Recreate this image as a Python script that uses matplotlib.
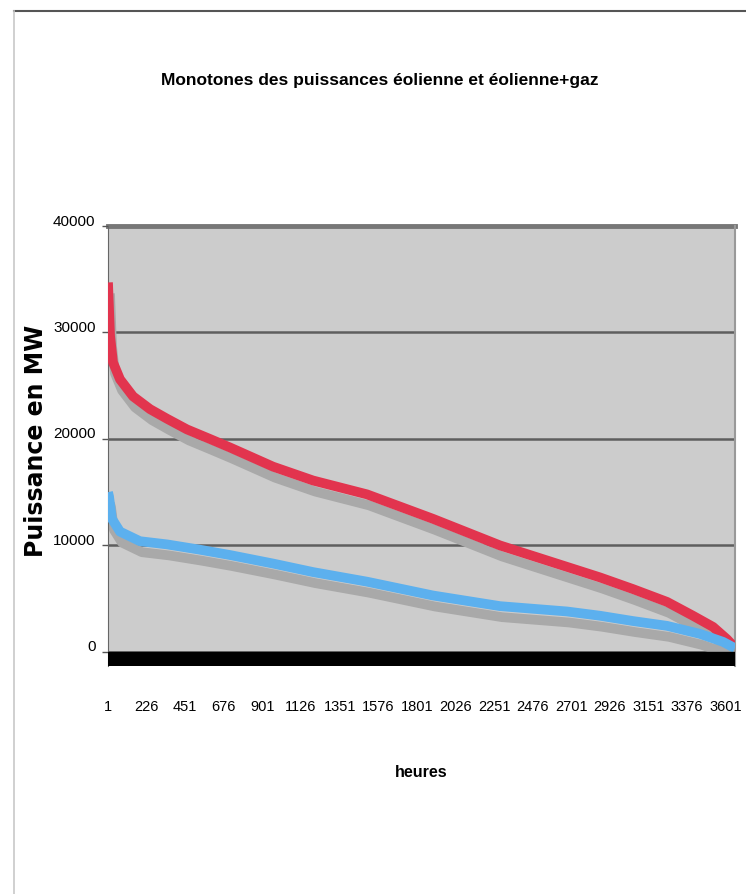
import matplotlib
matplotlib.use("Agg")
import matplotlib.pyplot as plt
from matplotlib import transforms
from matplotlib.lines import Line2D

# Load-duration curves, hours sorted by decreasing power (MW)
hours_gaz = [1, 13, 30, 71, 147, 246, 345, 461, 595, 712, 963, 1196, 1510,
             1895, 2286, 2577, 2868, 3061, 3259, 3410, 3527, 3608, 3655]
eol_gaz = [34700, 29700, 27200, 25600, 24000, 22800, 21900, 20900, 20000,
           19200, 17400, 16100, 14800, 12500, 10000, 8500, 7000, 5900, 4700,
           3400, 2350, 1200, 400]

hours_eol = [1, 7, 24, 71, 187, 345, 537, 712, 963, 1196, 1510, 1895, 2286,
             2676, 2868, 3061, 3259, 3450, 3585, 3655]
eol = [15000, 14600, 12500, 11300, 10400, 10100, 9600, 9100, 8300, 7500,
       6600, 5300, 4300, 3800, 3400, 2900, 2450, 1700, 950, 350]

x_ticks = list(range(1, 3602, 225))
y_ticks = [0, 10000, 20000, 30000, 40000]

font = ["Liberation Sans", "DejaVu Sans"]

fig = plt.figure(figsize=(7.46, 8.95), dpi=100)
ax = fig.add_axes([108 / 746, 1 - 667 / 895, 627 / 746, 440 / 895])
ax.set_facecolor("#cccccc")
ax.set_xlim(1, 3655)
ax.set_ylim(-1320, 40000)

# floor of the chart under the zero line
ax.axhspan(-1320, 0, color="black", zorder=5)

for v in y_ticks[:-1]:
    ax.axhline(v, color="#5e5e5e", lw=1.8, zorder=1)
ax.axhline(40000, color="#777777", lw=3.5, zorder=1, clip_on=False)

# grey drop shadows under both curves
shadow = transforms.offset_copy(ax.transData, fig=fig, x=2, y=-11, units="dots")
for xs, ys in [(hours_gaz, eol_gaz), (hours_eol, eol)]:
    ax.plot(xs, ys, color="#a9a9a9", lw=7, transform=shadow,
            solid_capstyle="butt", solid_joinstyle="round", zorder=2)

ax.plot(hours_gaz, eol_gaz, color="#e2344e", lw=7,
        solid_capstyle="butt", solid_joinstyle="round", zorder=3)
ax.plot(hours_eol, eol, color="#5cb0ee", lw=7,
        solid_capstyle="butt", solid_joinstyle="round", zorder=3)

ax.set_xticks(x_ticks)
ax.set_xticklabels([str(t) for t in x_ticks], family=font, fontsize=10.5)
ax.set_yticks(y_ticks)
ax.set_yticklabels([str(t) for t in y_ticks], family=font, fontsize=11)
ax.tick_params(axis="x", length=0, pad=24)
ax.tick_params(axis="y", length=4, width=1, color="#555555", pad=5)

# value labels sit a little above their gridlines
lift = transforms.ScaledTranslation(0, 7 / 100, fig.dpi_scale_trans)
for lbl in ax.get_yticklabels():
    lbl.set_transform(lbl.get_transform() + lift)

for side in ["top", "bottom"]:
    ax.spines[side].set_visible(False)
ax.spines["left"].set_color("#666666")
ax.spines["right"].set_color("#999999")
ax.spines["right"].set_linewidth(1.5)

fig.text(380 / 746, 1 - 80 / 895,
         "Monotones des puissances éolienne et éolienne+gaz",
         family=font, fontsize=12.5, fontweight="bold", ha="center", va="center")
fig.text(421 / 746, 1 - 773 / 895, "heures", family=font, fontsize=11.5,
         fontweight="bold", ha="center", va="center")
fig.text(36 / 746, 1 - 441 / 895, "Puissance en MW", fontsize=17,
         fontweight="bold", rotation=90, ha="center", va="center")

# outer frame of the chart
fig.add_artist(Line2D([14 / 746, 1], [1 - 12 / 895] * 2, color="#555555", lw=1.5))
fig.add_artist(Line2D([14 / 746] * 2, [0, 1 - 12 / 895], color="#c8c8c8", lw=1.2))

fig.savefig("out.png", dpi=100)
